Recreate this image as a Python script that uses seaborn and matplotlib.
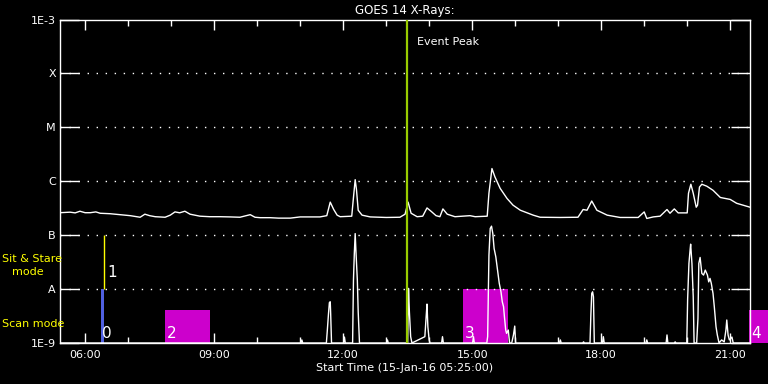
import matplotlib
matplotlib.use('Agg')
import matplotlib.pyplot as plt
import seaborn as sns
import pandas as pd
from matplotlib.ticker import FixedLocator, MultipleLocator, NullLocator, FuncFormatter

# GOES long channel flux (hours of 15-Jan-16, W/m^2)
long_hours = [5.417, 5.65, 5.77, 5.88, 6.00, 6.12, 6.25, 6.35, 6.58, 6.81, 7.05, 7.28, 7.39, 7.50,
              7.63, 7.86, 7.98, 8.09, 8.20, 8.32, 8.44, 8.67, 8.90, 9.14, 9.37, 9.60, 9.84, 9.95,
              10.07, 10.30, 10.50, 10.77, 11.00, 11.46, 11.62, 11.70, 11.78, 11.86, 11.93, 12.20,
              12.24, 12.28, 12.31, 12.35, 12.44, 12.63, 13.00, 13.32, 13.44, 13.51, 13.58, 13.72,
              13.85, 13.95, 14.05, 14.16, 14.25, 14.32, 14.42, 14.60, 14.95, 15.07, 15.35, 15.39,
              15.46, 15.53, 15.65, 15.81, 15.95, 16.12, 16.42, 16.58, 17.05, 17.46, 17.58, 17.67,
              17.78, 17.90, 18.14, 18.44, 18.86, 19.00, 19.06, 19.21, 19.37, 19.53, 19.60, 19.70,
              19.79, 20.00, 20.03, 20.085, 20.14, 20.21, 20.24, 20.285, 20.34, 20.455, 20.60,
              20.77, 21.00, 21.15, 21.46]
long_flux = [2.61e-7, 2.67e-7, 2.59e-7, 2.78e-7, 2.61e-7, 2.61e-7, 2.70e-7, 2.55e-7, 2.50e-7,
             2.40e-7, 2.30e-7, 2.15e-7, 2.45e-7, 2.30e-7, 2.20e-7, 2.15e-7, 2.35e-7, 2.70e-7,
             2.60e-7, 2.78e-7, 2.45e-7, 2.25e-7, 2.20e-7, 2.20e-7, 2.18e-7, 2.15e-7, 2.40e-7,
             2.15e-7, 2.11e-7, 2.11e-7, 2.07e-7, 2.07e-7, 2.18e-7, 2.18e-7, 2.30e-7, 4.1e-7,
             3.0e-7, 2.35e-7, 2.20e-7, 2.25e-7, 5.0e-7, 1.07e-6, 7.0e-7, 2.9e-7, 2.35e-7,
             2.18e-7, 2.13e-7, 2.15e-7, 2.45e-7, 4.1e-7, 2.55e-7, 2.20e-7, 2.25e-7, 3.2e-7,
             2.75e-7, 2.30e-7, 2.20e-7, 3.07e-7, 2.45e-7, 2.20e-7, 2.30e-7, 2.20e-7, 2.25e-7,
             6.0e-7, 1.72e-6, 1.20e-6, 7.4e-7, 4.8e-7, 3.6e-7, 2.9e-7, 2.35e-7, 2.15e-7,
             2.13e-7, 2.15e-7, 2.99e-7, 2.90e-7, 4.3e-7, 2.90e-7, 2.35e-7, 2.13e-7, 2.13e-7,
             2.70e-7, 2.04e-7, 2.18e-7, 2.25e-7, 2.99e-7, 2.55e-7, 3.07e-7, 2.59e-7, 2.59e-7,
             6.0e-7, 8.8e-7, 6.0e-7, 3.3e-7, 3.6e-7, 7.8e-7, 8.8e-7, 8.1e-7, 6.8e-7, 5.0e-7,
             4.6e-7, 3.9e-7, 3.3e-7]

# flux derivative (lower trace)
deriv_hours = [5.417, 11.02, 11.04, 11.06, 11.61, 11.63, 11.66, 11.68, 11.70, 11.71, 11.73, 12.01,
               12.03, 12.05, 12.22, 12.24, 12.26, 12.28, 12.30, 12.33, 12.35, 12.38, 13.01, 13.03,
               13.05, 13.50, 13.52, 13.54, 13.57, 13.60, 13.90, 13.93, 13.95, 13.97, 14.00, 14.02,
               14.29, 14.31, 14.33, 15.01, 15.03, 15.05, 15.34, 15.36, 15.39, 15.42, 15.45, 15.48,
               15.51, 15.55, 15.59, 15.63, 15.67, 15.70, 15.73, 15.75, 15.78, 15.80, 15.84, 15.87,
               15.92, 15.96, 15.99, 16.01, 17.03, 17.05, 17.07, 17.57, 17.59, 17.61, 17.74, 17.76,
               17.78, 17.80, 17.82, 17.84, 18.03, 18.05, 18.07, 19.04, 19.06, 19.08, 19.51, 19.53,
               19.55, 19.70, 19.72, 19.74, 19.99, 20.01, 20.04, 20.07, 20.08, 20.11, 20.14, 20.16,
               20.22, 20.25, 20.27, 20.30, 20.34, 20.38, 20.42, 20.47, 20.50, 20.53, 20.56, 20.60,
               20.63, 20.67, 20.70, 20.74, 20.80, 20.86, 20.90, 20.92, 20.95, 20.98, 21.04, 21.07,
               21.46]
deriv_flux = [1e-9, 1e-9, 1.14e-9, 1e-9, 1e-9, 1.62e-9, 3.55e-9, 5.6e-9, 5.82e-9, 3.55e-9, 1e-9,
              1e-9, 1.29e-9, 1e-9, 1e-9, 1.47e-8, 4.6e-8, 1.07e-7, 4.6e-8, 1.47e-8, 3.8e-9, 1e-9,
              1e-9, 1.14e-9, 1e-9, 1e-9, 1.03e-8, 3.8e-9, 1.31e-9, 1e-9, 1.31e-9, 3.07e-9,
              5.27e-9, 2.0e-9, 1.14e-9, 1e-9, 1e-9, 1.31e-9, 1e-9, 1e-9, 1.31e-9, 1e-9, 1e-9,
              1.31e-9, 4.26e-8, 1.33e-7, 1.47e-7, 1.07e-7, 5.67e-8, 3.96e-8, 2.25e-8, 1.28e-8,
              8.9e-9, 5.82e-9, 4.7e-9, 3.07e-9, 1.74e-9, 1.51e-9, 1.74e-9, 1e-9, 1e-9, 1.41e-9,
              2.06e-9, 1e-9, 1e-9, 1.14e-9, 1e-9, 1e-9, 1.05e-9, 1e-9, 1e-9, 3.3e-9, 8.3e-9,
              8.9e-9, 7.2e-9, 1e-9, 1e-9, 1.31e-9, 1e-9, 1e-9, 1.14e-9, 1e-9, 1e-9, 1.41e-9,
              1e-9, 1e-9, 1.05e-9, 1e-9, 1e-9, 6.53e-9, 2.99e-8, 5.67e-8, 6.81e-8, 2.99e-8,
              7.2e-9, 1e-9, 1e-9, 2.87e-9, 2.99e-8, 3.86e-8, 1.95e-8, 1.82e-8, 2.25e-8, 1.82e-8,
              1.36e-8, 1.58e-8, 1.28e-8, 8.3e-9, 4.7e-9, 2.0e-9, 1.41e-9, 1e-9, 1.14e-9, 1.05e-9,
              1.74e-9, 2.67e-9, 1.41e-9, 1.14e-9, 1.29e-9, 1e-9, 1e-9]

# observation blocks (raster numbers)
obs_labels = ['0', '1', '2', '3', '4']
obs_start = [6.36, 6.45, 7.86, 14.79, 21.44]
obs_end = [6.43, 6.45, 8.91, 15.84, 21.88]
obs_low = [1e-9, 1e-8, 1e-9, 1e-9, 1e-9]
obs_high = [1e-8, 1e-7, 4.1e-9, 1e-8, 4.1e-9]
obs_colors = ['#5060e0', '#ffff00', '#cc00cc', '#cc00cc', '#cc00cc']

event_peak = 13.49
y_ticks = [1e-9, 1e-8, 1e-7, 1e-6, 1e-5, 1e-4, 1e-3]
y_labels = ['1E-9', 'A', 'B', 'C', 'M', 'X', '1E-3']
x_start, x_end = 5.4167, 21.46

sns.set_style('dark')
plt.rcParams['font.family'] = ['DejaVu Sans']

fig = plt.figure(figsize=(7.68, 3.84), dpi=100, facecolor='black')
ax = fig.add_axes([60 / 768, 41 / 384, 690 / 768, 323.5 / 384])
ax.set_facecolor('black')

long_df = pd.DataFrame({'hour': long_hours, 'flux': long_flux})
deriv_df = pd.DataFrame({'hour': deriv_hours, 'flux': deriv_flux})

# blocks first so the curves sit on top
for lab, s, e, lo, hi, c in zip(obs_labels, obs_start, obs_end, obs_low, obs_high, obs_colors):
    if e > s:
        ax.bar(s, hi - lo, width=e - s, bottom=lo, align='edge', color=c,
               linewidth=0, clip_on=(lab != '4'), zorder=1)
        ax.text(s + 0.04, 1.1e-9, lab, color='white', fontsize=11, ha='left', va='bottom',
                clip_on=False, zorder=4)
    else:
        ax.vlines(s, lo, hi, color=c, linewidth=1, zorder=1)
        ax.text(s + 0.06, 1.5e-8, lab, color='white', fontsize=11, ha='left', va='bottom', zorder=4)

sns.lineplot(data=long_df, x='hour', y='flux', ax=ax, color='white', linewidth=1,
             estimator=None, zorder=3)
sns.lineplot(data=deriv_df, x='hour', y='flux', ax=ax, color='white', linewidth=1,
             estimator=None, zorder=3)

ax.axvline(event_peak, color='#99cc00', linewidth=1.6, zorder=3)
ax.text(event_peak + 0.23, 3.8e-4, 'Event Peak', color='white', fontsize=8, va='center')

ax.set_yscale('log')
ax.set_ylim(1e-9, 1e-3)
ax.set_xlim(x_start, x_end)
ax.yaxis.set_major_locator(FixedLocator(y_ticks))
ax.yaxis.set_minor_locator(NullLocator())
ax.set_yticklabels(y_labels)
ax.xaxis.set_major_locator(MultipleLocator(3))
ax.xaxis.set_minor_locator(MultipleLocator(1))
ax.xaxis.set_major_formatter(FuncFormatter(lambda h, p: f'{int(round(h)):02d}:00'))

# dotted level lines
for y in y_ticks[1:-1]:
    ax.axhline(y, color='white', linestyle=(0, (1, 5.5)), linewidth=1, zorder=2)

ax.tick_params(axis='y', which='major', direction='in', length=14, width=1, left=True,
               right=True, colors='white', labelsize=8, pad=3)
ax.tick_params(axis='x', which='major', direction='in', length=7, width=1, top=True,
               bottom=True, colors='white', labelsize=8, pad=5)
ax.tick_params(axis='x', which='minor', direction='in', length=4, width=1, top=True,
               bottom=True, colors='white')
for sp in ax.spines.values():
    sp.set_color('white')
    sp.set_linewidth(1)
ax.grid(False)

ax.set_xlabel('Start Time (15-Jan-16 05:25:00)', color='white', fontsize=8, labelpad=2)
ax.set_ylabel('')
ax.set_title('GOES 14 X-Rays:', color='white', fontsize=8.5, pad=4)

fig.text(2 / 768, 1 - 259 / 384, 'Sit & Stare', color='#ffff00', fontsize=8, va='center')
fig.text(12 / 768, 1 - 272 / 384, 'mode', color='#ffff00', fontsize=8, va='center')
fig.text(2 / 768, 1 - 324 / 384, 'Scan mode', color='#ffff00', fontsize=8, va='center')

fig.savefig('out.png', dpi=100, facecolor='black')
